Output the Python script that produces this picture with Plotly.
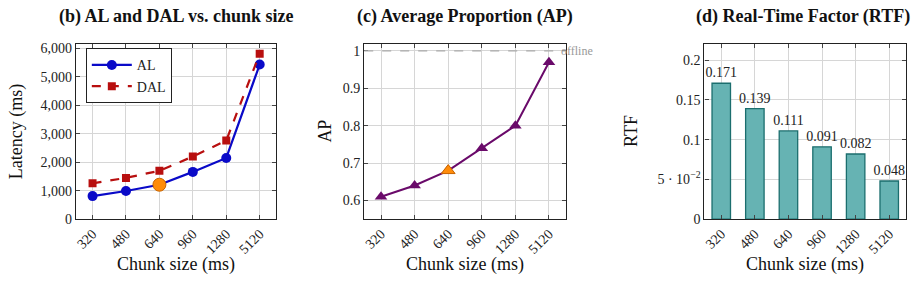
import plotly.graph_objects as go

chunks = ["320", "480", "640", "960", "1280", "5120"]
al = [810, 990, 1210, 1660, 2150, 5430]
dal = [1260, 1450, 1700, 2200, 2760, 5810]
ap = [0.61, 0.64, 0.68, 0.74, 0.80, 0.97]
rtf = [0.171, 0.139, 0.111, 0.091, 0.082, 0.048]
rtf_labels = ["0.171", "0.139", "0.111", "0.091", "0.082", "0.048"]
highlight = "640"

W, H = 917, 287
FONT = "Liberation Serif"

def xd(a, b):
    return [a / W, b / W]

def yd(top, bottom):
    return [1 - bottom / H, 1 - top / H]

fig = go.Figure()

hi_idx = chunks.index(highlight)

# Panel b
fig.add_trace(go.Scatter(x=chunks, y=al, name="AL", mode="lines+markers",
                         line=dict(color="#0a0ac8", width=2.2),
                         marker=dict(symbol="circle", size=10, color="#0a0ac8"),
                         xaxis="x", yaxis="y"))
fig.add_trace(go.Scatter(x=chunks, y=dal, name="DAL", mode="lines+markers",
                         line=dict(color="#b80f0f", width=2.2, dash="dash"),
                         marker=dict(symbol="square", size=8, color="#b80f0f"),
                         xaxis="x", yaxis="y"))
fig.add_trace(go.Scatter(x=[highlight], y=[al[hi_idx]], mode="markers", showlegend=False,
                         marker=dict(symbol="circle", size=13, color="#ff8c0a",
                                     line=dict(color="#c86400", width=1)),
                         xaxis="x", yaxis="y"))

# Panel c
fig.add_trace(go.Scatter(x=chunks, y=ap, mode="lines+markers", showlegend=False,
                         line=dict(color="#6a0a6a", width=2),
                         marker=dict(symbol="triangle-up", size=11, color="#6a0a6a"),
                         xaxis="x2", yaxis="y2"))
fig.add_trace(go.Scatter(x=[highlight], y=[ap[hi_idx]], mode="markers", showlegend=False,
                         marker=dict(symbol="triangle-up", size=12, color="#ff8c0a",
                                     line=dict(color="#c86400", width=1)),
                         xaxis="x2", yaxis="y2"))

# Panel d
fig.add_trace(go.Bar(x=chunks, y=rtf, showlegend=False, width=0.55,
                     marker=dict(color="#66b3b3", line=dict(color="#1b6e6e", width=1.3)),
                     text=rtf_labels, textposition="outside", cliponaxis=False,
                     constraintext="none",
                     textfont=dict(family=FONT, size=14, color="#222"),
                     xaxis="x3", yaxis="y3"))

axis_common = dict(showline=True, linecolor="#222", linewidth=1.2, mirror="allticks",
                   ticks="inside", ticklen=4, tickcolor="#444", showgrid=True,
                   gridcolor="#d6d6d6", gridwidth=1, zeroline=False,
                   tickfont=dict(family=FONT, size=14, color="#222"))

xcat = dict(type="category", range=[-0.5, 5.5], tickangle=-45, **axis_common)

fig.update_layout(
    width=W, height=H, margin=dict(l=0, r=0, t=0, b=0),
    paper_bgcolor="white", plot_bgcolor="white",
    font=dict(family=FONT, color="#222"),
    xaxis=dict(domain=xd(74, 275), anchor="y", **xcat),
    yaxis=dict(domain=yd(43, 225), anchor="x", range=[0, 6170],
               tickvals=[0, 1000, 2000, 3000, 4000, 5000, 6000],
               ticktext=["0", "1,000", "2,000", "3,000", "4,000", "5,000", "6,000"],
               **axis_common),
    xaxis2=dict(domain=xd(363, 565), anchor="y2", **xcat),
    yaxis2=dict(domain=yd(43, 225), anchor="x2", range=[0.55, 1.02],
                tickvals=[0.6, 0.7, 0.8, 0.9, 1.0],
                ticktext=["0.6", "0.7", "0.8", "0.9", "1"], **axis_common),
    xaxis3=dict(domain=xd(704, 906), anchor="y3", **xcat),
    yaxis3=dict(domain=yd(43, 225), anchor="x3", range=[0, 0.221],
                tickvals=[0, 0.05, 0.1, 0.15, 0.2],
                ticktext=["0", "5 · 10<sup>−2</sup>", "0.1", "0.15", "0.2"], **axis_common),
    legend=dict(x=84 / W, y=1 - 48 / H, xanchor="left", yanchor="top",
                bgcolor="white", bordercolor="#222", borderwidth=1,
                font=dict(family=FONT, size=14, color="#222"),
                tracegroupgap=2, itemwidth=40),
    bargap=0.45,
)

fig.add_shape(type="line", xref="x2 domain", yref="y2", x0=0, x1=1, y0=1, y1=1,
              line=dict(color="#aaaaaa", width=1.3, dash="dash"))
fig.add_annotation(xref="x2 domain", yref="y2", x=1, y=1, xanchor="left", yanchor="middle",
                   xshift=-7, text="offline", showarrow=False,
                   font=dict(family=FONT, size=12, color="#999999"))

titles = [("(b) AL and DAL vs. chunk size", 174.5),
          ("(c) Average Proportion (AP)", 464),
          ("(d) Real-Time Factor (RTF)", 803)]
for t, cx in titles:
    fig.add_annotation(xref="paper", yref="paper", x=cx / W, y=1 - 15 / H, text="<b>" + t + "</b>",
                       showarrow=False, xanchor="center", yanchor="middle",
                       font=dict(family=FONT, size=18, color="#111"))

for cx in [174.5, 464, 805]:
    fig.add_annotation(xref="paper", yref="paper", x=cx / W, y=1 - 272 / H, text="Chunk size (ms)",
                       showarrow=False, xanchor="center", yanchor="middle",
                       font=dict(family=FONT, size=18, color="#111"))

for t, cx in [("Latency (ms)", 14), ("AP", 324), ("RTF", 631)]:
    fig.add_annotation(xref="paper", yref="paper", x=cx / W, y=1 - 134 / H, text=t,
                       showarrow=False, xanchor="center", yanchor="middle", textangle=-90,
                       font=dict(family=FONT, size=18, color="#111"))

fig.write_html("out.html")
